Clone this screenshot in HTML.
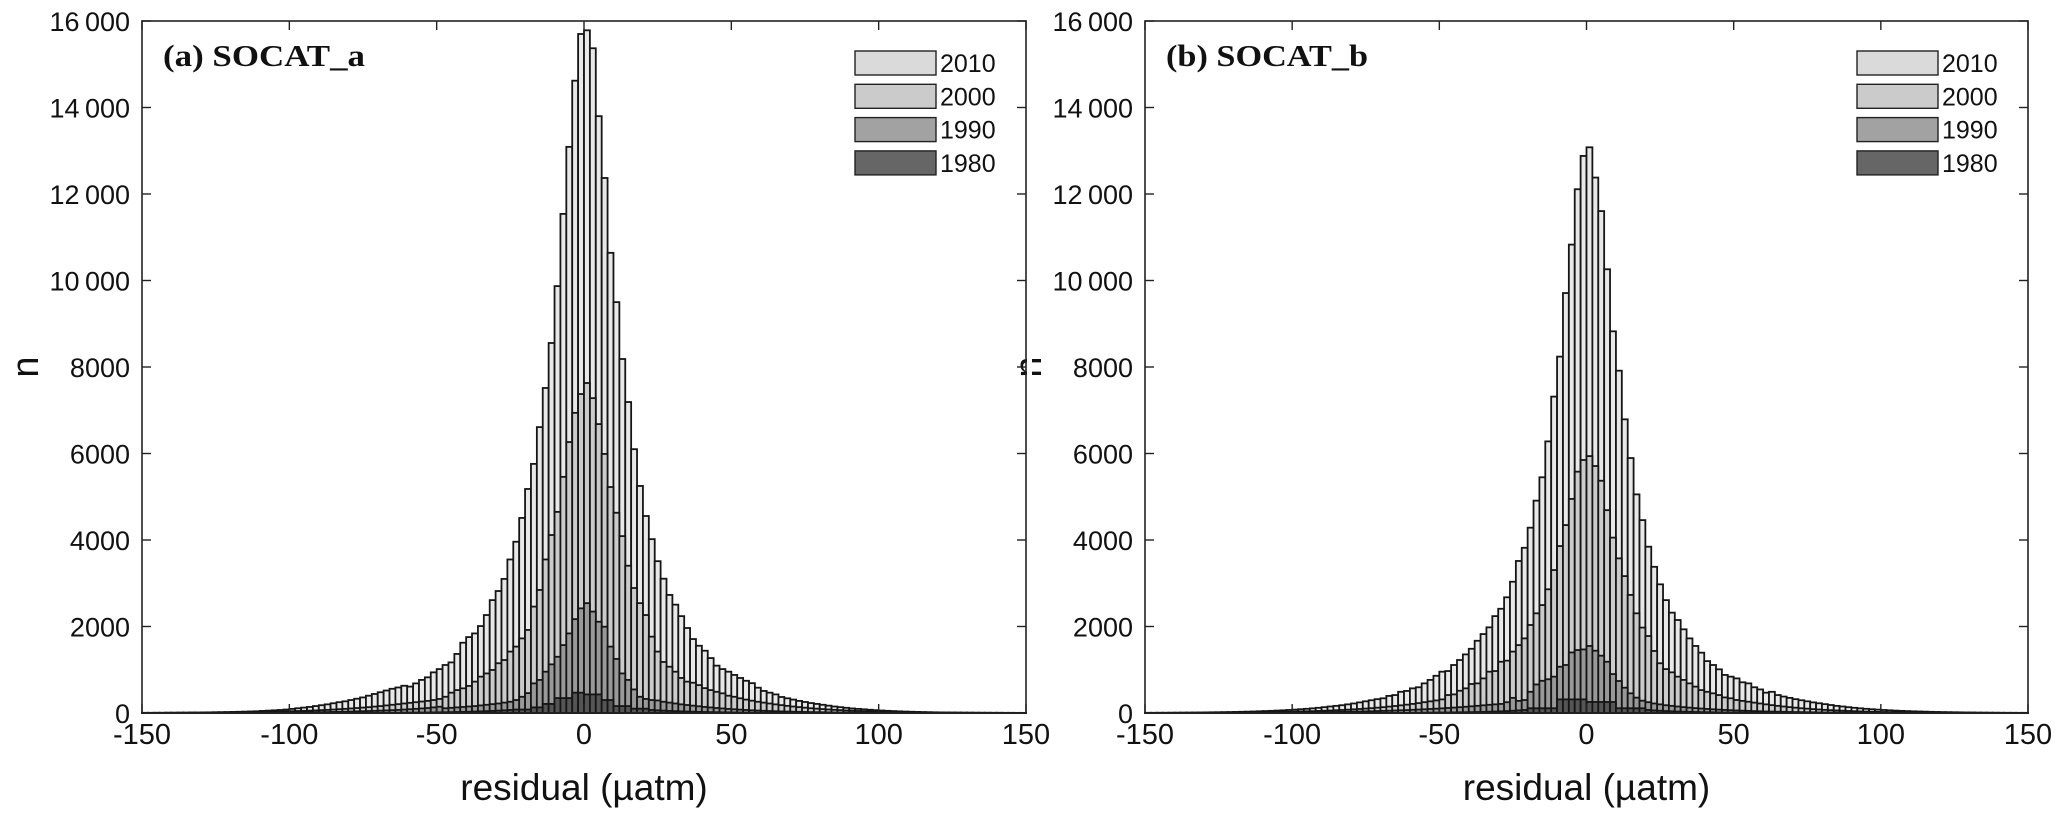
<!DOCTYPE html>
<html><head><meta charset="utf-8"><style>
html,body{margin:0;padding:0;background:#fff;}
svg{display:block;font-family:"Liberation Sans",Arial,sans-serif;}
</style></head><body>
<svg id="chart" width="2067" height="820" viewBox="0 0 2067 820"></svg>
<script>
const binStart = -150;
const binWidth = 2;
const years = ["2010","2000","1990","1980"];
const xTicks = [-150,-100,-50,0,50,100,150];
const yTicks = [0,2000,4000,6000,8000,10000,12000,14000,16000];
const yTickLabels = ["0","2000","4000","6000","8000","10\u2009000","12\u2009000","14\u2009000","16\u2009000"];

const a2010 = [5,5,6,6,8,8,10,10,12,12,14,15,18,20,22,
25,28,32,36,40,48,55,62,70,80,95,110,125,140,160,
180,200,225,250,270,300,330,360,400,440,
480,520,560,590,
630,610,685,765,825,940,1015,1110,1170,1365,1625,1755,1840,2010,2265,2610,2820,3100,3550,3960,4510,
5180,5760,6610,7515,8555,9870,11540,13090,14620,15700,
15785,15370,13800,12370,10640,9500,8185,7190,6100,5250,4555,
4020,3510,3105,2730,2505,2240,1965,1710,1555,1440,1270,1095,1015,955,880,810,745,690,585,510,470,430,370,
340,310,280,255,230,210,190,170,150,135,120,105,95,85,75,66,58,50,44,38,33,29,25,22,19,16,14,12,11,10,9,8,7,6,6,5,5,4,4,3,3];
const a2000 = [2,2,3,3,4,4,5,5,6,6,7,8,9,10,11,12,14,16,18,20,23,26,30,34,38,
42,46,50,55,60,66,72,80,88,96,105,115,125,135,148,160,175,190,205,220,235,250,265,280,300,
325,375,470,530,570,625,725,840,915,995,1150,1225,1420,1535,1725,1920,2460,2845,3550,4115,
4650,5460,6265,6940,7375,
7630,7280,6680,5990,5225,4630,
4090,3405,2890,2540,2265,1765,1420,1180,1070,955,810,725,700,645,575,530,490,455,400,375,340,
310,285,260,240,220,200,182,165,150,136,123,110,100,90,81,73,66,59,53,47,42,37,33,29,26,23,20,18,16,14,12,11,10,9,8,7,6,5,5,4,4,3,3,3,2,2,2,2];
const a1990 = [0,0,0,0,1,1,1,1,1,2,2,2,2,3,3,3,4,4,5,5,6,7,8,9,10,11,12,14,16,18,
20,22,25,28,31,34,38,42,46,50,55,60,66,72,80,88,96,105,115,130,145,
110,120,130,140,150,160,175,190,205,220,240,260,
300,375,460,685,765,955,1125,1300,1570,1840,2170,2420,
2540,2345,2110,1995,1535,1250,915,765,545,375,325,300,290,
260,240,220,200,185,170,155,140,128,116,105,95,86,78,70,63,57,51,46,41,37,33,30,27,24,21,19,17,15,13,12,11,10,9,8,7,6,5,5,4,4,3,3,3,2,2,2,2,1,1,1,1,1,1,1,0,0,0,0,0,0,0];
const a1980 = [0,0,0,0,0,0,0,0,0,0,0,0,0,0,0,0,0,0,0,0,0,0,0,0,0,0,0,0,0,0,
1,1,1,2,2,2,3,3,4,4,5,5,6,7,8,9,10,11,12,14,16,18,20,23,26,30,34,38,43,48,55,62,70,
80,80,80,130,130,210,210,345,345,345,470,470,
430,430,430,300,300,160,160,160,100,100,100,
70,62,55,48,43,38,34,30,26,23,20,18,16,14,12,11,10,9,8,7,6,5,5,4,4,3,3,2,2,2,1,1,1,1,1,
0,0,0,0,0,0,0,0,0,0,0,0,0,0,0,0,0,0,0,0,0,0,0,0,0,0,0,0,0];

const b2010 = [5,5,6,6,7,8,9,10,11,12,14,16,18,20,22,25,28,31,35,40,45,50,56,62,70,78,87,97,108,120,135,150,165,180,200,220,245,270,295,320,
340,395,415,490,510,570,595,685,765,860,955,970,1110,1225,1355,1485,1670,1825,1980,2240,2410,2675,3035,3515,3820,
4285,4910,5450,6280,7315,8240,9710,10830,12110,12880,
13080,12380,11605,10260,8825,7915,6790,5895,5055,4460,
3845,3380,2975,2610,2320,2150,1935,1725,1550,1395,1200,1110,1010,880,840,800,710,685,595,545,470,490,415,
380,350,320,295,270,245,225,205,185,165,150,135,120,108,97,87,78,70,62,55,49,44,39,35,31,27,24,21,19,17,15,13,12,10,9,8,7,6,5,5,4,4];
const b2000 = [2,2,3,3,3,4,4,5,5,6,6,7,8,9,10,11,12,13,15,17,19,21,23,26,29,32,36,40,44,48,53,58,64,70,77,85,93,102,112,123,135,148,162,177,193,210,228,250,270,290,
315,415,430,515,570,670,685,800,955,970,1185,1210,1420,1570,1725,2035,2305,2495,2860,3305,3860,
4345,4950,5580,5850,
5940,5710,5370,4690,
4055,3575,3165,2730,2305,1975,1780,1435,1150,1015,940,840,765,685,610,530,490,455,415,360,340,
300,280,260,240,220,200,182,165,150,136,123,110,100,90,81,73,66,59,53,47,42,37,33,29,26,23,20,18,16,14,12,11,10,9,8,7,6,5,5,4,4,3,3,3,2,2,2,2,2,2];
const b1990 = [0,0,0,0,0,1,1,1,1,1,2,2,2,2,3,3,3,4,4,5,5,6,7,8,9,10,11,12,14,16,18,20,23,26,29,
32,35,38,41,45,49,53,58,63,68,74,80,86,93,100,108,116,125,134,144,155,166,178,190,200,210,250,
350,280,300,490,660,745,780,840,1070,1110,1400,1455,1470,
1550,1440,1325,1185,900,740,585,455,355,285,
250,220,200,180,165,150,136,124,113,103,94,86,78,71,65,59,54,49,44,40,36,33,30,27,24,22,20,18,16,14,13,12,11,10,9,8,7,6,6,5,5,4,4,3,3,3,2,2,2,2,1,1,1,1,1,1,1,1,0,0,0,0,0,0,0];
const b1980 = [0,0,0,0,0,0,0,0,0,0,0,0,0,0,0,0,0,0,0,0,0,0,0,0,0,0,0,0,0,0,
1,1,1,1,2,2,2,2,3,3,3,4,4,5,5,6,7,8,9,10,11,12,14,16,18,20,23,26,30,34,39,45,52,60,70,
110,110,110,110,110,315,315,315,315,315,
255,255,255,255,255,110,110,110,110,110,
70,60,52,45,39,34,30,26,23,20,18,16,14,12,11,10,9,8,7,6,5,5,4,4,3,3,3,2,2,2,2,1,1,1,1,1,1,
0,0,0,0,0,0,0,0,0,0,0,0,0,0,0,0,0,0,0,0,0,0,0,0,0,0,0,0];

const NS = "http://www.w3.org/2000/svg";
const svg = document.getElementById("chart");
const barFill = {"2010":"#e8e8e8","2000":"#cbcbcb","1990":"#999999","1980":"#555555"};
const legFill = {"2010":"#dadada","2000":"#cbcbcb","1990":"#a2a2a2","1980":"#666666"};

function mk(tag, attrs, parent){
  const e = document.createElementNS(NS, tag);
  for (const k in attrs) e.setAttribute(k, attrs[k]);
  (parent||svg).appendChild(e);
  return e;
}

function drawPanel(id, left, right, top, bottom, title, series){
  const g = mk("g", {});
  
  
  const xs = v => left + (v - (-150)) / 300 * (right - left);
  const ys = v => bottom - v / 16000 * (bottom - top);
  series.forEach((arr, si) => {
    const yr = years[si];
    const sg = mk("g", {}, g);
    
    
    arr.forEach((v, i) => {
      if (v <= 0) return;
      const x0 = xs(binStart + i * binWidth), x1 = xs(binStart + (i + 1) * binWidth);
      const r = mk("rect", {x: x0, y: ys(v), width: x1 - x0, height: ys(0) - ys(v),
        fill: barFill[yr], stroke: "#151515", "stroke-width": 1.8}, sg);
      
      
    });
  });
  const fr = mk("rect", {x: left, y: top, width: right - left, height: bottom - top, fill: "none", stroke: "#222", "stroke-width": 1.6}, g);
  
  
  xTicks.forEach(t => {
    const x = xs(t);
    mk("line", {x1: x, x2: x, y1: bottom, y2: bottom - 9, stroke: "#222", "stroke-width": 1.4}, g);
    mk("line", {x1: x, x2: x, y1: top, y2: top + 9, stroke: "#222", "stroke-width": 1.4}, g);
    const tx = mk("text", {x: x, y: 744, "text-anchor": "middle", "font-size": 29, fill: "#111"}, g);
    tx.textContent = String(t);
    
    
  });
  yTicks.forEach((t, i) => {
    const y = ys(t);
    mk("line", {x1: left, x2: left + 9, y1: y, y2: y, stroke: "#222", "stroke-width": 1.4}, g);
    mk("line", {x1: right, x2: right - 9, y1: y, y2: y, stroke: "#222", "stroke-width": 1.4}, g);
    const tx = mk("text", {x: left - 12, y: y + 10, "text-anchor": "end", "font-size": 27, fill: "#111"}, g);
    tx.textContent = yTickLabels[i];
    
    
  });
  const xt = mk("text", {x: (left + right) / 2, y: 800, "text-anchor": "middle", "font-size": 37, fill: "#111"}, g);
  xt.textContent = "residual (\u00b5atm)";
  
  
  const yt = mk("text", {x: 0, y: 0, "text-anchor": "middle", "font-size": 38, fill: "#111", transform: "translate(" + (left - 104) + "," + ((top + bottom) / 2) + ") rotate(-90)"}, g);
  yt.textContent = "n";
  
  
  const tt = mk("text", {x: left + 21, y: 66, "font-size": 31, "font-weight": "bold", "font-family": "'Liberation Serif',serif", fill: "#111", textLength: 202, lengthAdjust: "spacingAndGlyphs"}, g);
  tt.textContent = title;
  
  
  const lg = mk("g", {}, g);
  
  
  years.forEach((yr, i) => {
    const yy = 51 + i * 33.3;
    const r = mk("rect", {x: right - 171, y: yy, width: 81, height: 24, fill: legFill[yr], stroke: "#222", "stroke-width": 1.4}, lg);
    
    
    const t = mk("text", {x: right - 86, y: yy + 21, "font-size": 25, fill: "#111"}, lg);
    t.textContent = yr;
    
    
  });
}

drawPanel("b", 1145, 2028, 21, 713, "(b) SOCAT_b", [b2010, b2000, b1990, b1980]);
const cover = mk("rect", {x: 1027, y: 0, width: 5, height: 820, fill: "#fff"});


drawPanel("a", 142, 1026, 21, 713, "(a) SOCAT_a", [a2010, a2000, a1990, a1980]);
</script>
</body></html>
